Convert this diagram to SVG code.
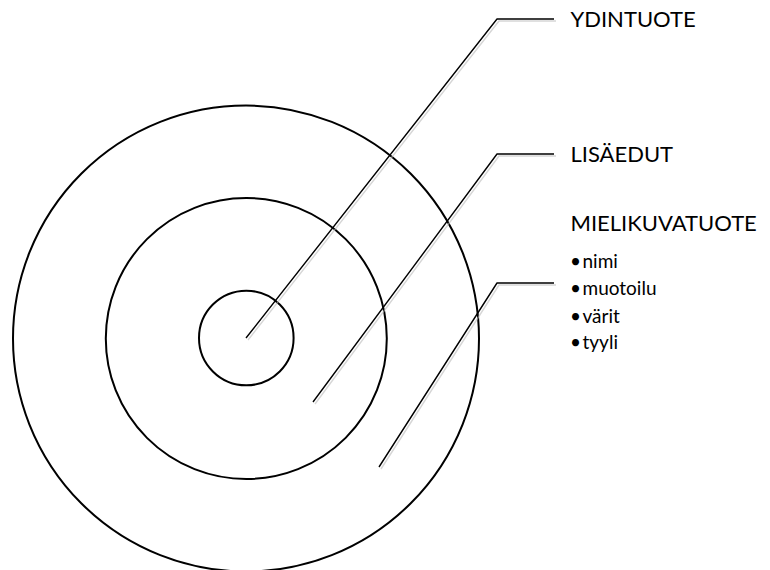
<svg xmlns="http://www.w3.org/2000/svg" width="770" height="570" viewBox="0 0 770 570">
<style>
.ring{fill:none;stroke:#000;stroke-width:2}
.lead{fill:none;stroke:#000;stroke-width:1.4;stroke-linejoin:round}
.shadow{fill:none;stroke:#bbb;stroke-width:1.4;opacity:0.6}
.h{font-family:Lato,"Open Sans",sans-serif;font-size:22px;fill:#000}
.s{font-family:Lato,"Open Sans",sans-serif;font-size:19px;fill:#000}
</style>
<rect width="770" height="570" fill="#fff"/>
<g id="outer"><circle class="ring" cx="246" cy="338.5" r="233"/></g>
<g id="middle"><circle class="ring" cx="246.3" cy="338.5" r="140.5"/></g>
<g id="inner"><circle class="ring" cx="246.3" cy="338" r="47.3"/></g>
<g id="connectors">
<polyline class="shadow" points="248,340 499,21 556,21"/>
<polyline class="shadow" points="315,404 499,156 556,156"/>
<polyline class="shadow" points="381,469 499,285 556,285"/>
<polyline class="lead" points="246,338 497,19 554,19"/>
<polyline class="lead" points="313,402 497,154 554,154"/>
<polyline class="lead" points="379,467 497,283 554,283"/>
</g>
<g id="label-ydintuote"><text class="h" x="570.5" y="26.5">YDINTUOTE</text></g>
<g id="label-lisaedut"><text class="h" x="570.5" y="162">LISÄEDUT</text></g>
<g id="label-mielikuvatuote">
<text class="h" x="570.5" y="231">MIELIKUVATUOTE</text>
<text class="s" x="570" y="268">•</text><text class="s" x="582.5" y="268">nimi</text>
<text class="s" x="570" y="295">•</text><text class="s" x="582.5" y="295">muotoilu</text>
<text class="s" x="570" y="322.5">•</text><text class="s" x="582.5" y="322.5">värit</text>
<text class="s" x="570" y="349">•</text><text class="s" x="582.5" y="349">tyyli</text>
</g>
</svg>
